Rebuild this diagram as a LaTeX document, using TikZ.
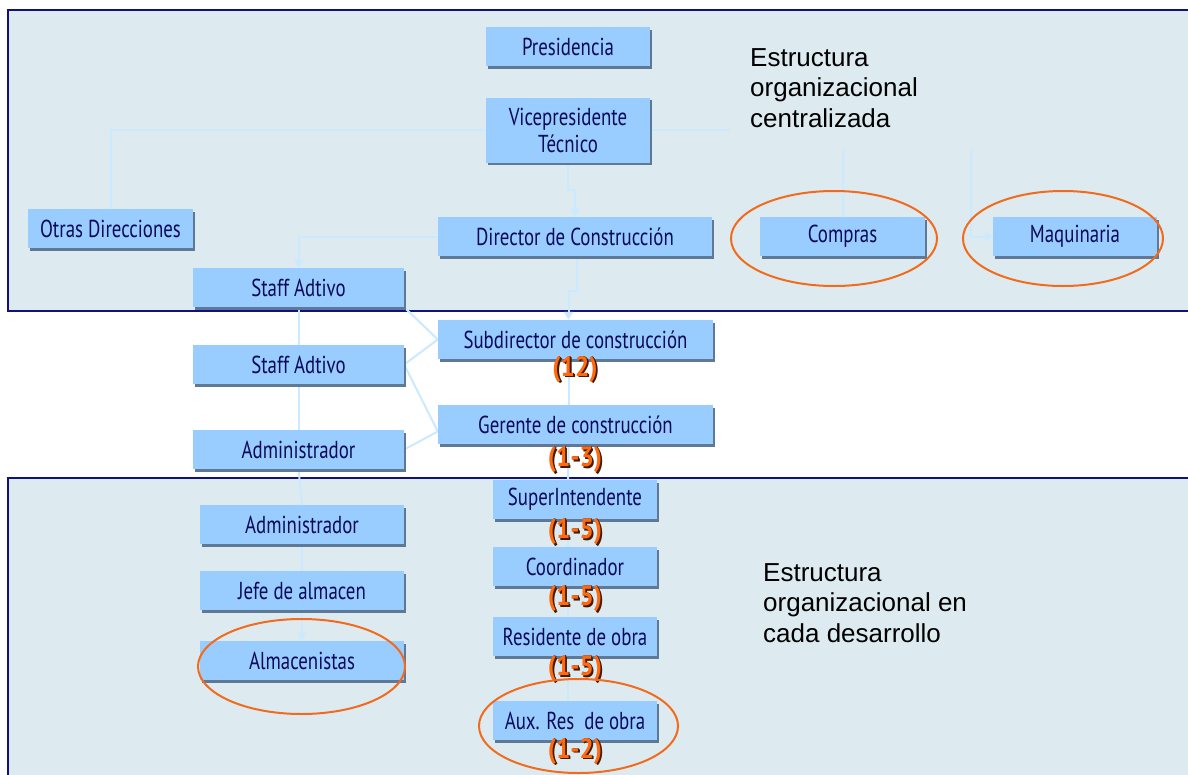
\documentclass[tikz,border=0pt]{standalone}
\usepackage{fontspec}
\usetikzlibrary{arrows.meta}
\newfontfamily\boxfont{PT Sans}[FakeStretch=0.77]
\newfontfamily\cntfont{PT Sans Bold}[FakeStretch=0.9]
\newfontfamily\bigfont{Liberation Sans}
\definecolor{bgblue}{RGB}{221,235,240}
\definecolor{framec}{RGB}{16,16,128}
\definecolor{boxblue}{RGB}{153,204,255}
\definecolor{boxshade}{RGB}{94,120,150}
\definecolor{boxtext}{RGB}{10,10,90}
\definecolor{connc}{RGB}{204,234,255}
\definecolor{ringc}{RGB}{242,106,27}
\definecolor{cntc}{RGB}{255,106,16}
\definecolor{cntshadow}{RGB}{70,25,0}
\newcommand\cntlabel[1]{\makebox[0pt][l]{\raisebox{-1.8pt}{\hspace{1.8pt}\textcolor{cntshadow}{#1}}}\makebox[0pt][l]{\raisebox{0pt}{\hspace{0.9pt}\textcolor{cntshadow}{#1}}}\textcolor{cntc}{#1}}
\pgfdeclarelayer{bg}
\pgfsetlayers{bg,main}
\begin{document}
\begin{tikzpicture}[x=1pt,y=-1pt,
  org/.style={fill=boxblue, text=boxtext, inner sep=0pt, align=center,
    font=\boxfont\fontsize{24.5}{27}\selectfont, minimum height=39pt,
    preaction={fill=boxshade, transform canvas={shift={(2pt,-2.5pt)}}}},
  cnt/.style={inner sep=0pt, font=\cntfont\fontsize{28}{30}\selectfont},
  conn/.style={draw=connc, line width=2pt},
  arr/.style={conn, -{Triangle[width=9pt,length=8pt]}},
  ring/.style={draw=ringc, line width=2pt},
  region/.style={fill=bgblue, draw=framec, line width=2.8pt},
  bigtext/.style={inner sep=0pt, align=left, anchor=north west, text=black,
    font=\bigfont\fontsize{26}{30.5}\selectfont}]
\useasboundingbox (0,0) rectangle (1188,774);
\clip (0,0) rectangle (1188,774);
\begin{pgfonlayer}{bg}
\fill[white] (0,0) rectangle (1188,774);
\draw[region] (8,10) rectangle (1200,311);
\draw[region] (8,478) rectangle (1200,800);
\end{pgfonlayer}

% boxes
\node[org, minimum width=164pt] (pres) at (568,46.5) {Presidencia};
\node[org, minimum width=164pt, minimum height=65pt] (vice) at (568,130) {Vicepresidente\\Técnico};
\node[org, minimum width=165pt] (otras) at (110.5,228.5) {Otras Direcciones};
\node[org, minimum width=274pt] (dir) at (575,236.5) {Director de Construcción};
\node[org, minimum width=165pt] (compras) at (842.5,236.5) {Compras};
\node[org, minimum width=164pt] (maq) at (1075,236.5) {Maquinaria};
\node[org, minimum width=211pt] (staff1) at (298.5,287.5) {Staff Adtivo};
\node[org, minimum width=275pt] (sub) at (575.5,339.5) {Subdirector de construcción};
\node[org, minimum width=211pt] (staff2) at (298.5,364.5) {Staff Adtivo};
\node[org, minimum width=275pt] (ger) at (575.5,424.5) {Gerente de construcción};
\node[org, minimum width=211pt] (adm1) at (298.5,449.5) {Administrador};
\node[org, minimum width=164pt] (super) at (575,499.5) {SuperIntendente};
\node[org, minimum width=204pt] (adm2) at (302,524.5) {Administrador};
\node[org, minimum width=164pt] (coord) at (575,566.5) {Coordinador};
\node[org, minimum width=204pt] (jefe) at (302,590.5) {Jefe de almacen};
\node[org, minimum width=164pt] (res) at (575,636.5) {Residente de obra};
\node[org, minimum width=204pt] (alm) at (302,660.5) {Almacenistas};
\node[org, minimum width=164pt] (aux) at (575,720.5) {Aux. Res\ \ de obra};

% count labels
\node[cnt] (c12) at (575,370) {\cntlabel{(12)}};
\node[cnt] (c13) at (575,461) {\cntlabel{(1-3)}};
\node[cnt] (c15a) at (575,533) {\cntlabel{(1-5)}};
\node[cnt] (c15b) at (575,600) {\cntlabel{(1-5)}};
\node[cnt] (c15c) at (575,670) {\cntlabel{(1-5)}};
\node[cnt] (c12b) at (575,752) {\cntlabel{(1-2)}};

% texts
\node[bigtext] (t1) at (750,48.4) {Estructura\\organizacional\\centralizada};
\node[bigtext] (t2) at (763,563.4) {Estructura\\organizacional en\\cada desarrollo};

% free ends
\coordinate (vstub) at (730,130);
\coordinate (cstub) at (842.5,150);
\coordinate (mstub) at (971,150);

% connectors
\begin{pgfonlayer}{bg}
\draw[conn] (vice.west) -| (otras.north);
\draw[conn] (vice.east) -- (vstub);
\draw[conn] (cstub) -- (compras.north);
\draw[arr] (mstub) |- (maq.west);
\draw[arr] (vice.south) -- ++(0,27) -| (dir.north);
\draw[arr] (dir.west) -| (staff1.north);
\draw[arr] ([xshift=2pt]dir.south) -- ++(0,35) -| ([xshift=-7pt]sub.north);
\draw[conn] ([xshift=-7pt]sub.south) -- ([xshift=-7pt]ger.north);
\draw[conn] ([xshift=-7pt]ger.south) -- ([xshift=-7pt]super.north);
\draw[conn] ([xshift=-7pt]super.south) -- ([xshift=-7pt]coord.north);
\draw[conn] ([xshift=-7pt]coord.south) -- ([xshift=-7pt]res.north);
\draw[conn] ([xshift=-7pt]res.south) -- ([xshift=-7pt]aux.north);
\draw[conn] (staff1.south) -- (staff2.north);
\draw[conn] (staff2.south) -- (adm1.north);
\draw[conn] (adm1.south) -- (adm2.north);
\draw[conn] (adm2.south) -- (jefe.north);
\draw[arr] (jefe.south) -- (alm.north);
\draw[conn] (staff1.south east) -- (sub.west);
\draw[conn] (staff2.east) -- (sub.west);
\draw[conn] (staff2.east) -- ([yshift=-7pt]ger.west);
\draw[conn] (adm1.east) -- ([yshift=-7pt]ger.west);
\end{pgfonlayer}

% highlight ellipses
\draw[ring] (834,238.5) ellipse [x radius=103, y radius=47.5];
\draw[ring] (1063,238.5) ellipse [x radius=100, y radius=47.5];
\draw[ring] (301.5,666.5) ellipse [x radius=103.5, y radius=47.5];
\draw[ring] (578.5,726) ellipse [x radius=99.5, y radius=47];
\end{tikzpicture}
\end{document}
